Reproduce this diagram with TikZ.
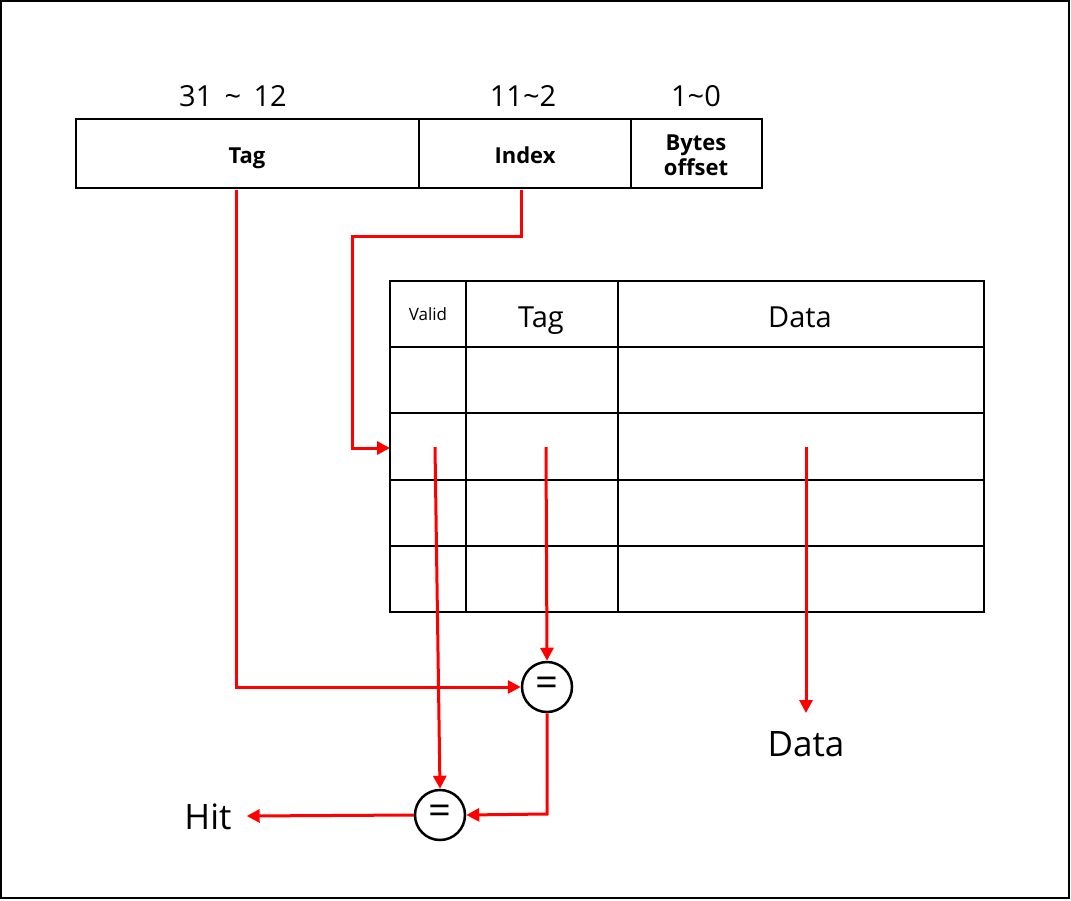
\documentclass[tikz,border=0pt]{standalone}
\usepackage{fontspec}
\setmainfont{Open Sans}
\usetikzlibrary{arrows.meta}
\begin{document}
\begin{tikzpicture}[x=1pt,y=-1pt,
  fs/.style={font=\fontsize{#1}{#1}\selectfont},
  fsb/.style={font=\fontsize{#1}{#1}\selectfont\bfseries},
  redline/.style={draw=red,line width=3pt,-{Triangle[length=13pt,width=13pt]}},
  cmp/.style={circle,draw=black,line width=2.5pt,minimum size=50pt,inner sep=0pt,fs=40}]
\useasboundingbox (0,0) rectangle (1071,900);
\draw[line width=2pt] (1,1) rectangle (1069,898);
% address fields
\draw[line width=2pt] (76,119) rectangle (762,188);
\draw[line width=2pt] (419,119) -- (419,188) (631,119) -- (631,188);
\node[fsb=22,anchor=base] (ftag) at (247,163) {Tag};
\node[fsb=22,anchor=base] (fidx) at (525,163) {Index};
\node[font=\fontsize{22}{25}\selectfont\bfseries,align=center] (foff) at (696,155) {Bytes\\offset};
\node[fs=29,anchor=base] (l1) at (233,106) {31 \,\textasciitilde\, 12};
\node[fs=29,anchor=base] (l2) at (523,106) {11\textasciitilde 2};
\node[fs=29,anchor=base] (l3) at (696,106) {1\textasciitilde 0};
% cache table
\draw[line width=2pt] (390,281) rectangle (984,612);
\foreach \yy in {347,413,480,546} \draw[line width=2pt] (390,\yy) -- (984,\yy);
\draw[line width=2pt] (466,281) -- (466,612) (618,281) -- (618,612);
\node[fs=17,anchor=base] (hv) at (428,320) {Valid};
\node[fs=29,anchor=base] (ht) at (541,327) {Tag};
\node[fs=29,anchor=base] (hd) at (800,327) {Data};
% coordinates
\coordinate (tagsrc) at (236,190);
\coordinate (idxsrc) at (521,190);
\coordinate (rowin) at (390,448);
\coordinate (vsrc) at (435,447);
\coordinate (tsrc) at (546,447);
\coordinate (dsrc) at (806,447);
\node[cmp] (c1) at (547,687) {=};
\node[cmp] (c2) at (440,815) {=};
\node[fs=35,anchor=base] (dout) at (806,756) {Data};
\node[fs=35,anchor=base,inner xsep=15pt] (hit) at (208,829) {Hit};
% connectors
\draw[redline] (idxsrc) -- (521,236) -- (352,236) -- (352,448) -- (rowin);
\draw[redline] (tagsrc) -- (236,687) -- (c1.west);
\draw[redline] (tsrc) -- (c1.north);
\draw[redline] (dsrc) -- (806,713);
\draw[redline] (vsrc) -- (c2.north);
\draw[redline] (c1.south) -- (547,814) -- (c2.east);
\draw[redline] (c2.west) -- (hit.east |- 0,816);
\end{tikzpicture}
\end{document}
